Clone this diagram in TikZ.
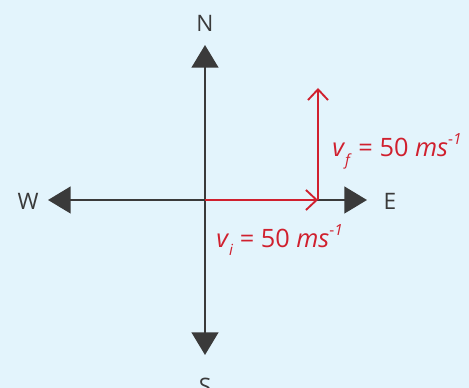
\documentclass[tikz,border=0pt]{standalone}
\usepackage{fontspec}
\setmainfont{Open Sans}
\usetikzlibrary{arrows.meta}
\definecolor{bgblue}{HTML}{E3F4FC}
\definecolor{axisgray}{HTML}{3A3A3A}
\definecolor{vred}{HTML}{D0202E}
\tikzset{
  axisline/.style={draw=axisgray,line width=1.9pt,-{Triangle[width=20pt,length=17pt]}},
  redvec/.style={draw=vred,line width=1.4pt,-{Straight Barb[width=15pt,length=8pt,line width=1.4pt]}},
  dirlabel/.style={text=axisgray,font=\fontsize{17}{19}\selectfont,inner sep=0pt},
  veclabel/.style={text=vred,font=\fontsize{19}{21}\selectfont,inner sep=0pt,anchor=west}
}
\newcommand{\velab}[1]{\textit{v}\raisebox{-0.32em}{\fontsize{11.5}{12}\selectfont\textit{#1}} = 50 \textit{ms}\raisebox{0.5em}{\fontsize{11.5}{12}\selectfont -\textit{1}}}
\begin{document}
\begin{tikzpicture}[x=0.75pt,y=-0.75pt]
\fill[bgblue] (0,0) rectangle (469,388);
\useasboundingbox (0,0) rectangle (469,388);
\coordinate (O) at (205,200);
\coordinate (tN) at (205,45);
\coordinate (tS) at (205,355);
\coordinate (tW) at (48,200);
\coordinate (tE) at (367,200);
\coordinate (P) at (318,200);
\coordinate (Q) at (318,88);
\node[dirlabel] (N) at (205,23) {N};
\node[dirlabel] (S) at (205,386) {S};
\node[dirlabel] (W) at (28,201) {W};
\node[dirlabel] (E) at (390,201) {E};
\draw[axisline] (O) -- (tN);
\draw[axisline] (O) -- (tS);
\draw[axisline] (O) -- (tW);
\draw[axisline] (O) -- (tE);
\draw[redvec] (O) -- (P);
\draw[redvec] (P) -- (Q);
\node[veclabel] (vf) at (332,151) {\velab{f}};
\node[veclabel] (vi) at (216,240) {\velab{i}};
\end{tikzpicture}
\end{document}
